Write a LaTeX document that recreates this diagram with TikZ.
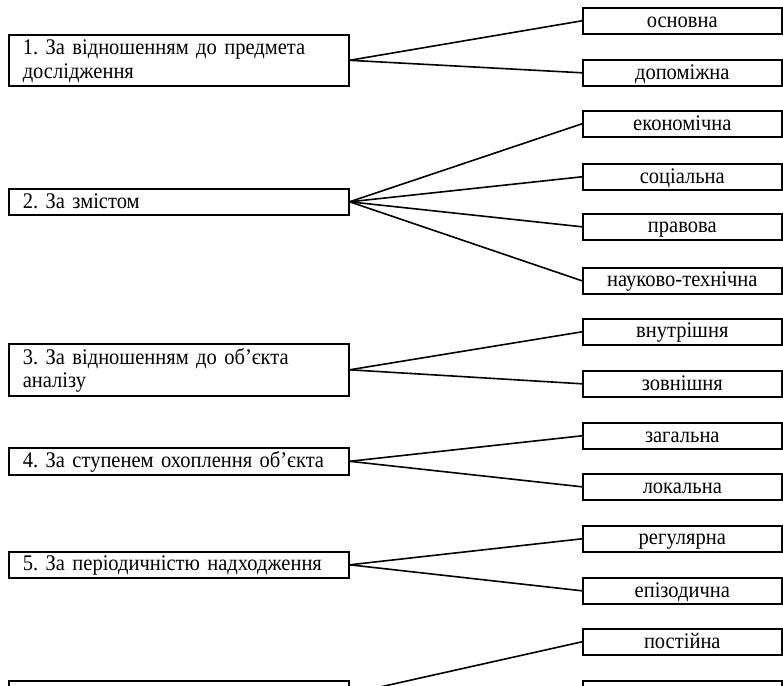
\documentclass[tikz,border=0pt]{standalone}
\usepackage{fontspec}
\setmainfont{Liberation Serif}[FakeStretch=0.92]
\newcommand{\stt}{\rule[-3pt]{0pt}{20pt}}
\begin{document}
\frenchspacing
\begin{tikzpicture}[x=1pt,y=-1pt,
  mainbox/.style={draw, line width=1.6pt, anchor=north west, text width=312pt,
    inner xsep=14pt, inner ysep=0pt, align=left,
    font=\fontsize{22.3}{23.5}\selectfont\frenchspacing},
  subbox/.style={draw, line width=1.6pt, anchor=north west, minimum width=199pt,
    minimum height=26pt, inner sep=0pt, font=\fontsize{22.3}{23.5}\selectfont},
  link/.style={line width=1.6pt}]
\useasboundingbox (0,0) rectangle (783,685);
\clip (0,0) rectangle (783,685);
% group 1
\node[mainbox, minimum height=51pt] (m1) at (8,34) {\stt 1. За відношенням до предмета\\\stt дослідження};
\node[subbox] (c11) at (582,7) {\stt основна};
\node[subbox] (c12) at (582,59) {\stt допоміжна};
% group 2
\node[mainbox, minimum height=26pt] (m2) at (8,188) {\stt 2. За змістом};
\node[subbox] (c21) at (582,110) {\stt економічна};
\node[subbox] (c22) at (582,163) {\stt соціальна};
\node[subbox] (c23) at (582,213) {\stt правова};
\node[subbox] (c24) at (582,267) {\stt науково-технічна};
% group 3
\node[mainbox, minimum height=52pt] (m3) at (8,343) {\stt 3. За відношенням до об’єкта\\\stt аналізу};
\node[subbox] (c31) at (582,318) {\stt внутрішня};
\node[subbox] (c32) at (582,370) {\stt зовнішня};
% group 4
\node[mainbox, minimum height=27pt] (m4) at (8,447) {\stt 4. За ступенем охоплення об’єкта};
\node[subbox] (c41) at (582,422) {\stt загальна};
\node[subbox] (c42) at (582,473) {\stt локальна};
% group 5
\node[mainbox, minimum height=26pt] (m5) at (8,551) {\stt 5. За періодичністю надходження};
\node[subbox] (c51) at (582,525) {\stt регулярна};
\node[subbox] (c52) at (582,577) {\stt епізодична};
% group 6 (cut off)
\node[mainbox, minimum height=26pt] (m6) at (8,680) {};
\node[subbox] (c61) at (582,628) {\stt постійна};
\node[subbox] (c62) at (582,680) {};
% connectors
\foreach \m/\c in {m1/c11,m1/c12,m2/c21,m2/c22,m2/c23,m2/c24,m3/c31,m3/c32,
  m4/c41,m4/c42,m5/c51,m5/c52,m6/c61}
  \draw[link] (\m.east) -- (\c.west);
\end{tikzpicture}
\end{document}
